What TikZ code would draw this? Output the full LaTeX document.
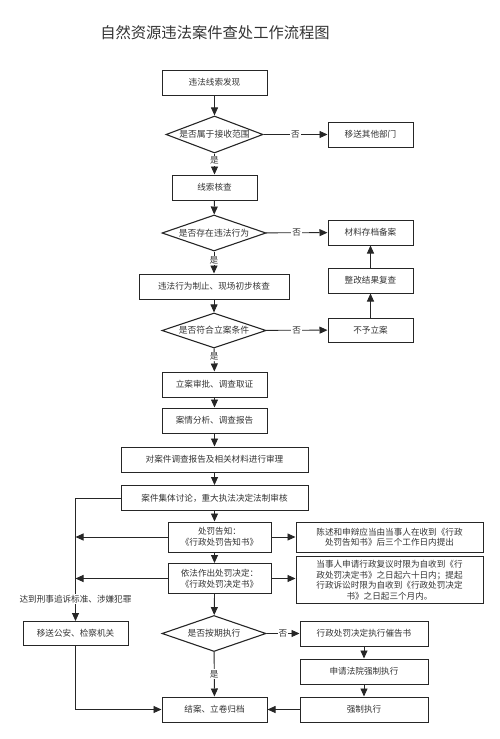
\documentclass[tikz,border=0pt]{standalone}
\usepackage{fontspec}
\setmainfont{Noto Sans CJK SC}
\usetikzlibrary{shapes.geometric,arrows.meta}

\definecolor{linecol}{HTML}{262626}
\definecolor{txtcol}{HTML}{333333}

\begin{document}
\begin{tikzpicture}[x=1pt,y=-1pt,
  box/.style={draw=linecol, line width=1pt, minimum height=25pt, inner sep=1pt,
    text=txtcol, font=\fontsize{8.6}{10.5}\selectfont, align=center},
  dec/.style={draw=linecol, line width=1.1pt, diamond, minimum width=104pt,
    minimum height=36pt, inner sep=0pt, text=txtcol, font=\fontsize{8.8}{10.5}\selectfont},
  arr/.style={-{Triangle[length=8pt,width=7pt]}, line width=0.9pt, draw=linecol},
  lbl/.style={fill=white, inner sep=1pt, text=txtcol, font=\fontsize{8.6}{10.5}\selectfont}]

% Page frame
\useasboundingbox (0,0) rectangle (500,739);

% Title
\node[text=txtcol, font=\fontsize{15.3}{18}\selectfont] (title) at (215,33) {自然资源违法案件查处工作流程图};

% Main column
\node[box, minimum width=105pt] (fx) at (214.5,82.5) {违法线索发现};
\node[dec, minimum width=97pt, minimum height=37pt] (d1) at (214.5,134.5) {\makebox[0pt]{是否属于接收范围}};
\node[box, minimum width=85pt] (hc) at (214.5,187.5) {线索核查};
\node[dec] (d2) at (214,233) {\makebox[0pt]{是否存在违法行为}};
\node[box, minimum width=150pt] (zz) at (214,286.5) {违法行为制止、现场初步核查};
\node[dec, minimum height=35pt] (d3) at (214,330.5) {\makebox[0pt]{是否符合立案条件}};
\node[box, minimum width=105pt] (la) at (214.5,384.5) {立案审批、调查取证};
\node[box, minimum width=105pt] (fx2) at (214.5,420.5) {案情分析、调查报告};
\node[box, minimum width=187pt] (sl) at (214.5,459.5) {对案件调查报告及相关材料进行审理};
\node[box, minimum width=187pt] (jt) at (214.5,498) {案件集体讨论，重大执法决定法制审核};
\node[box, minimum width=103pt, minimum height=30pt] (gz) at (219.5,537) {处罚告知：\\《行政处罚告知书》};
\node[box, minimum width=103pt, minimum height=30pt] (jd) at (219.5,578.5) {依法作出处罚决定：\\《行政处罚决定书》};
\node[dec] (d4) at (214,633.5) {\makebox[0pt]{是否按期执行}};
\node[box, minimum width=105pt] (ja) at (214.5,709.5) {结案、立卷归档};

% Right column
\node[box, minimum width=85pt] (ys1) at (370.5,134.5) {移送其他部门};
\node[box, minimum width=85pt] (cd) at (370.5,232.5) {材料存档备案};
\node[box, minimum width=85pt] (fc) at (370.5,280.5) {整改结果复查};
\node[box, minimum width=85pt, minimum height=24pt] (by) at (370.5,330) {不予立案};
\node[box, minimum width=187pt, minimum height=30pt] (gzs) at (389.5,537)
  {陈述和申辩应当由当事人在收到《行政\\处罚告知书》后三个工作日内提出};
\node[box, minimum width=187pt, minimum height=47pt] (jds) at (389.5,580)
  {当事人申请行政复议时限为自收到《行\\政处罚决定书》之日起六十日内；提起\\行政诉讼时限为自收到《行政处罚决定\\书》之日起三个月内。};
\node[box, minimum width=128pt] (cg) at (364,633.5) {行政处罚决定执行催告书};
\node[box, minimum width=128pt] (sq) at (364,671.5) {申请法院强制执行};
\node[box, minimum width=128pt] (qz) at (364,709.5) {强制执行};

% Left column
\node[box, minimum width=105pt, minimum height=24pt] (ys) at (75.5,633.5) {移送公安、检察机关};

% Connectors, main column
\draw[arr] (fx) -- (d1);
\draw[arr] (d1) -- node[lbl, pos=0.35] {是} (hc);
\draw[arr] (hc) -- (d2);
\draw[arr] (d2) -- node[lbl, pos=0.4] {是} (zz);
\draw[arr] (zz) -- (d3);
\draw[arr] (d3) -- node[lbl, pos=0.35] {是} (la);
\draw[arr] (la) -- (fx2);
\draw[arr] (fx2) -- (sl);
\draw[arr] (sl) -- (jt);
\draw[arr] (jt.south) -- (jt.south |- gz.north);
\draw[arr] (jt.south |- gz.south) -- (jt.south |- jd.north);
\draw[arr] (jt.south |- jd.south) -- (d4);
\draw[arr] (d4) -- node[lbl] {是} (ja);

% Connectors, right side
\draw[arr] (d1) -- node[lbl] {否} (ys1);
\draw[arr] (d2) -- node[lbl] {否} (cd);
\draw[arr] (d3) -- node[lbl] {否} (by);
\draw[arr] (by) -- (fc);
\draw[arr] (fc) -- (cd);
\draw[arr] (gz) -- (gzs);
\draw[arr] (jd.east) -- (jd.east -| jds.west);
\draw[arr] (d4) -- node[lbl] {否} (cg);
\draw[arr] (cg) -- (sq);
\draw[arr] (sq) -- (qz);
\draw[arr] (qz) -- (ja);

% Connectors, left side
\draw[arr] (jt.west) -| node[lbl, pos=0.91] (fz) {达到刑事追诉标准、涉嫌犯罪} (ys.north);
\draw[arr] (gz.west) -- (gz.west -| ys.north);
\draw[arr] (jd.west) -- (jd.west -| ys.north);
\draw[arr] (ys.south) |- (ja.west);

\end{tikzpicture}
\end{document}
